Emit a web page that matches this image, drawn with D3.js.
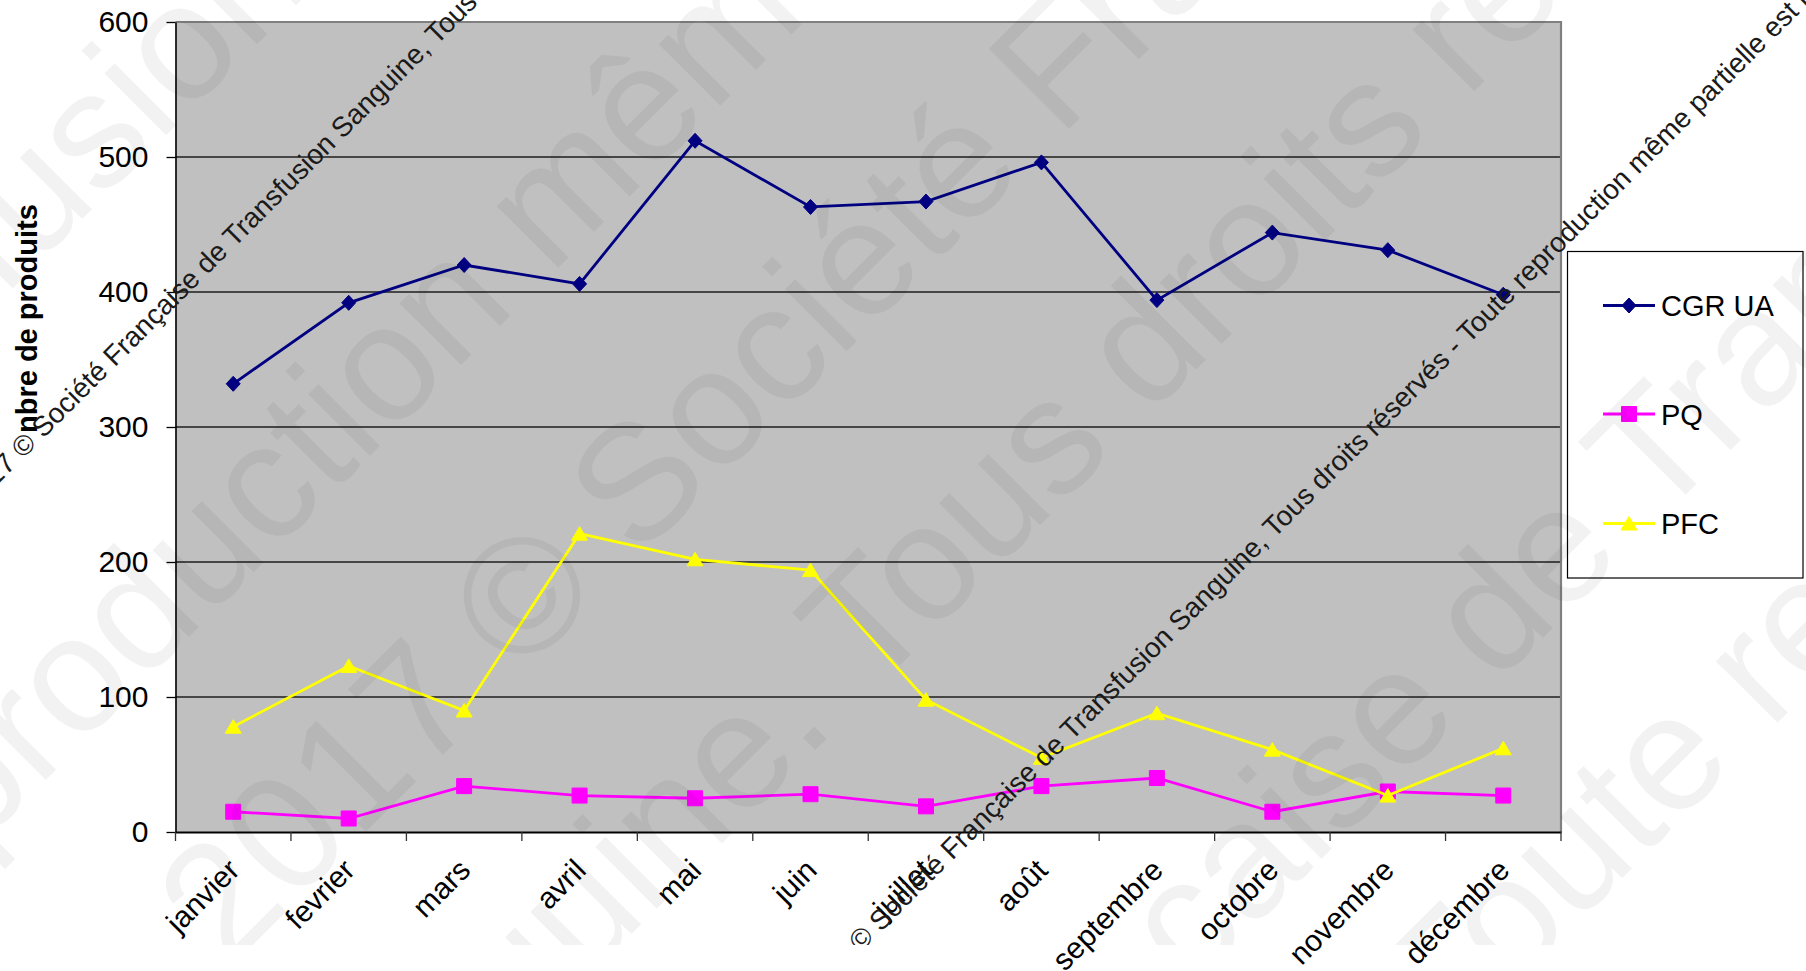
<!DOCTYPE html>
<html><head><meta charset="utf-8">
<script src="https://cdn.jsdelivr.net/npm/d3@7"></script>
<style>
body{margin:0;background:#fff}
svg{display:block}
text{font-family:Arial,"Liberation Sans",Helvetica,sans-serif}
</style>
</head><body>
<svg id="c" width="1806" height="971"></svg>
<script>
// ---------- data ----------
const categories = ["janvier","fevrier","mars","avril","mai","juin","juillet","août","septembre","octobre","novembre","décembre"];
const cgrUA = [332,392,420,406,512,463,467,496,394,444,431,398];
const pq    = [15,10,34,27,25,28,19,34,40,15,30,27];
const pfc   = [78,123,90,221,202,194,98,55,88,61,27,62];
const yTicks = [0,100,200,300,400,500,600];
const seriesNames = ["CGR UA","PQ","PFC"];
const yTitle = "nbre de produits";

// watermark texts
const smallMark = "Société Française de Transfusion Sanguine, Tous droits réservés - Toute reproduction même partielle est interdite";

// ---------- layout ----------
const W = 1806, H = 971;
const plot = {left:175.5, right:1561, top:22, bottom:832};
const svg = d3.select("#c");
const font = 'Arial,"Liberation Sans",Helvetica,sans-serif';

const x = d3.scaleBand().domain(categories).range([plot.left, plot.right]);
const y = d3.scaleLinear().domain([0,600]).range([plot.bottom, plot.top]);
const cx = c => x(c) + x.bandwidth()/2;

// plot background
svg.append("rect")
  .attr("x",plot.left).attr("y",plot.top)
  .attr("width",plot.right-plot.left).attr("height",plot.bottom-plot.top)
  .attr("fill","#c0c0c0");

// gridlines
svg.append("g").selectAll("line")
  .data(yTicks.filter(d=>d>0 && d<600)).join("line")
  .attr("x1",plot.left).attr("x2",plot.right)
  .attr("y1",d=>y(d)).attr("y2",d=>y(d))
  .attr("stroke","#1e1e1e").attr("stroke-width",1.3);

// top / right border
svg.append("path")
  .attr("d",`M${plot.left},${y(600)}H${plot.right}V${plot.bottom}`)
  .attr("fill","none").attr("stroke","#808080").attr("stroke-width",2.2);

// y axis
const gy = svg.append("g").attr("transform",`translate(${plot.left},0)`)
  .call(d3.axisLeft(y).tickValues(yTicks).tickSize(9).tickSizeOuter(0).tickPadding(18));
gy.select(".domain").attr("stroke","#000").attr("stroke-width",1.6);
gy.selectAll(".tick line").attr("stroke","#000").attr("stroke-width",1.3);
gy.selectAll(".tick text").attr("font-size",30).attr("font-family",font).attr("fill","#000");

// x axis
const gx = svg.append("g").attr("transform",`translate(0,${plot.bottom})`)
  .call(d3.axisBottom(x).tickSize(0).tickSizeOuter(0).tickFormat(""));
gx.select(".domain").attr("stroke","#000").attr("stroke-width",1.8);
const bounds = categories.map(c=>x(c)).concat([x(categories[categories.length-1])+x.bandwidth()]);
svg.append("g").selectAll("line").data(bounds).join("line")
  .attr("x1",d=>d).attr("x2",d=>d).attr("y1",plot.bottom).attr("y2",plot.bottom+9)
  .attr("stroke","#333").attr("stroke-width",1.3);
svg.append("g").selectAll("text").data(categories).join("text")
  .attr("transform",d=>`translate(${cx(d)+8},${plot.bottom+40}) rotate(-45)`)
  .attr("text-anchor","end")
  .attr("font-size",30).attr("fill","#000")
  .text(d=>d);

// series
const markers = {
  diamond: "M0,-7.5L7,0L0,7.5L-7,0Z",
  square: "M-7.5,-7.5H7.5V7.5H-7.5Z",
  triangle: "M0,-7L8,6.5L-8,6.5Z"
};
const series = [
  {name:seriesNames[0], values:cgrUA, color:"#000080", marker:markers.diamond},
  {name:seriesNames[1], values:pq,    color:"#ff00ff", marker:markers.square},
  {name:seriesNames[2], values:pfc,   color:"#ffff00", marker:markers.triangle}
];
const line = d3.line().x((d,i)=>cx(categories[i])).y(d=>y(d));
series.forEach(s=>{
  svg.append("path").datum(s.values).attr("d",line)
    .attr("fill","none").attr("stroke",s.color).attr("stroke-width",2.8).attr("stroke-linejoin","miter");
  svg.append("g").selectAll("path").data(s.values).join("path")
    .attr("transform",(d,i)=>`translate(${cx(categories[i])},${y(d)})`)
    .attr("d",s.marker).attr("fill",s.color).attr("stroke",s.color).attr("stroke-width",1);
});

// legend
const lg = svg.append("g");
lg.append("rect").attr("x",1567.5).attr("y",251.5).attr("width",235.5).attr("height",326.5)
  .attr("fill","#fff").attr("stroke","#000").attr("stroke-width",1.2);
const legY = [305.5, 414, 523.5];
series.forEach((s,i)=>{
  const g = lg.append("g").attr("transform",`translate(0,${legY[i]})`);
  g.append("line").attr("x1",1603).attr("x2",1655).attr("y1",0).attr("y2",0)
    .attr("stroke",s.color).attr("stroke-width",2.8);
  g.append("path").attr("transform","translate(1629,0)").attr("d",s.marker)
    .attr("fill",s.color).attr("stroke",s.color);
  g.append("text").attr("x",1661).attr("y",10.5).attr("font-size",29).attr("fill","#000").text(s.name);
});

// y title
svg.append("text").attr("transform","translate(37,433) rotate(-90)")
  .attr("font-size",29).attr("font-weight","bold").attr("fill","#000").text(yTitle);

// ---------- watermarks ----------
svg.append("defs").append("clipPath").attr("id","wmclip")
  .append("rect").attr("x",0).attr("y",0).attr("width",W).attr("height",945);
const wm = svg.append("g").attr("clip-path","url(#wmclip)");
const big = wm.append("g").attr("transform","rotate(-45)")
  .attr("font-size",165).attr("fill","#000").attr("fill-opacity",0.05);
const bigFrags = [
  {v:213,  u:-625, a:"start", t:"Transfusion Sanguine"},
  {v:584,  u:-769, a:"start", t:"reproduction même partielle"},
  {v:847,  u:9,    a:"end",   t:"2017 ©"},
  {v:847,  u:55,   a:"start", t:"Société Française de Transfusion"},
  {v:1107, u:77,   a:"end",   t:"Sanguine."},
  {v:1107, u:123,  a:"start", t:"Tous droits réservés"},
  {v:1542, u:527,  a:"end",   t:"Française"},
  {v:1542, u:573,  a:"start", t:"de Transfusion"},
  {v:1768, u:285,  a:"start", t:"Toute reproduction"}
];
big.selectAll("text").data(bigFrags).join("text")
  .attr("x",d=>d.u).attr("y",d=>d.v).attr("text-anchor",d=>d.a).text(d=>d.t);

const small = wm.append("g").attr("transform","rotate(-45)")
  .attr("font-size",28).attr("fill","#1a1a1a");
const smallFrags = [
  {v:341,  u:-288, a:"end",   t:"2017 ©"},
  {v:341,  u:-280, a:"start", t:smallMark},
  {v:1282, u:-65,  a:"start", t:"© " + smallMark}
];
small.selectAll("text").data(smallFrags).join("text")
  .attr("x",d=>d.u).attr("y",d=>d.v).attr("text-anchor",d=>d.a).text(d=>d.t);
</script>
</body></html>
